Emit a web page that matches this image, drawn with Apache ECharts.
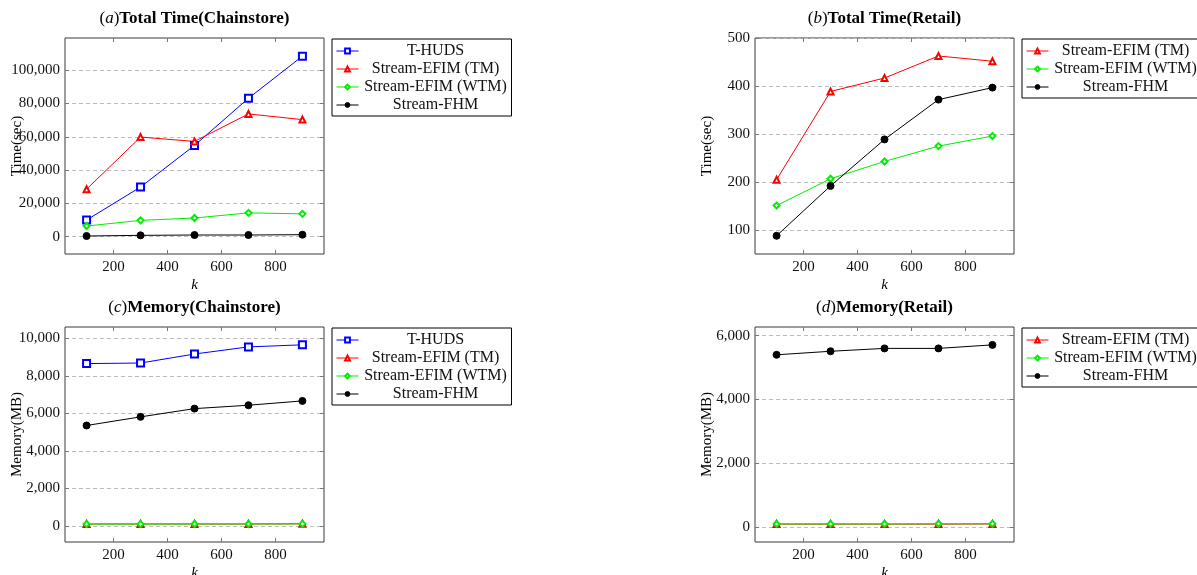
<!DOCTYPE html>
<html>
<head>
<meta charset="utf-8">
<script src="https://cdn.jsdelivr.net/npm/echarts@6/dist/echarts.min.js"></script>
<style>
  html, body { margin: 0; padding: 0; background: #fff; }
  #chart { width: 1197px; height: 575px; }
</style>
</head>
<body>
<div id="chart"></div>
<script>
const chartDom = document.getElementById("chart");
const chart = echarts.init(chartDom, null, { renderer: "canvas" });

// data
const kValues = [100, 300, 500, 700, 900];
const kTicks = [200, 400, 600, 800];

const timeChainHUDS = [10000, 29800, 54800, 83100, 108400];
const timeChainTM = [28500, 59800, 57200, 73700, 70300];
const timeChainWTM = [6400, 9800, 11200, 14300, 13700];
const timeChainFHM = [400, 800, 1000, 1000, 1200];

const timeRetailTM = [205, 389, 417, 463, 452];
const timeRetailWTM = [151, 207, 243, 275, 296];
const timeRetailFHM = [88, 192, 289, 372, 397];

const memChainHUDS = [8650, 8680, 9160, 9540, 9650];
const memChainTM = [100, 100, 100, 100, 110];
const memChainWTM = [95, 95, 100, 100, 105];
const memChainFHM = [5350, 5810, 6250, 6430, 6660];

const memRetailTM = [100, 100, 100, 100, 105];
const memRetailWTM = [105, 105, 105, 110, 110];
const memRetailFHM = [5400, 5510, 5600, 5600, 5710];

const ticksTimeChain = [0, 20000, 40000, 60000, 80000, 100000];
const ticksTimeRetail = [100, 200, 300, 400, 500];
const ticksMemChain = [0, 2000, 4000, 6000, 8000, 10000];
const ticksMemRetail = [0, 2000, 4000, 6000];

const font = "Liberation Serif";

const panels = [
  { tag: "a", title: "Total Time(Chainstore)", yName: "Time(sec)", left: 65, top: 38, height: 216,
    yMin: -10400, yMax: 119300, yTicks: ticksTimeChain,
    lines: [["T-HUDS", timeChainHUDS], ["Stream-EFIM (TM)", timeChainTM], ["Stream-EFIM (WTM)", timeChainWTM], ["Stream-FHM", timeChainFHM]] },
  { tag: "b", title: "Total Time(Retail)", yName: "Time(sec)", left: 755, top: 38, height: 216,
    yMin: 50, yMax: 500.5, yTicks: ticksTimeRetail,
    lines: [["Stream-EFIM (TM)", timeRetailTM], ["Stream-EFIM (WTM)", timeRetailWTM], ["Stream-FHM", timeRetailFHM]] },
  { tag: "c", title: "Memory(Chainstore)", yName: "Memory(MB)", left: 65, top: 327, height: 215,
    yMin: -860, yMax: 10600, yTicks: ticksMemChain,
    lines: [["T-HUDS", memChainHUDS], ["Stream-EFIM (TM)", memChainTM], ["Stream-EFIM (WTM)", memChainWTM], ["Stream-FHM", memChainFHM]] },
  { tag: "d", title: "Memory(Retail)", yName: "Memory(MB)", left: 755, top: 327, height: 215,
    yMin: -460, yMax: 6270, yTicks: ticksMemRetail,
    lines: [["Stream-EFIM (TM)", memRetailTM], ["Stream-EFIM (WTM)", memRetailWTM], ["Stream-FHM", memRetailFHM]] },
];

const styles = {
  "T-HUDS": { color: "#0000ff", symbol: "emptyRect", size: 7 },
  "Stream-EFIM (TM)": { color: "#ff0000", symbol: "emptyTriangle", size: 6 },
  "Stream-EFIM (WTM)": { color: "#00ee00", symbol: "emptyDiamond", size: 6 },
  "Stream-FHM": { color: "#000000", symbol: "circle", size: 7 },
};

const gridW = 259;

function fmt(v) {
  return v.toLocaleString("en-US");
}

const grid = [];
const xAxis = [];
const yAxis = [];
const series = [];
const legend = [];
const graphic = [];

panels.forEach((p, i) => {
  grid.push({
    left: p.left, top: p.top, width: gridW, height: p.height,
    outerBoundsMode: "none", containLabel: false,
    show: true, borderColor: "#3a3a3a", borderWidth: 1, backgroundColor: "transparent",
  });
  // bottom x axis
  xAxis.push({
    gridIndex: i, type: "value", min: 20, max: 980, position: "bottom",
    name: "k", nameLocation: "middle", nameGap: 24, nameMoveOverlap: false,
    nameTextStyle: { fontFamily: font, fontStyle: "italic", fontSize: 15, color: "#000" },
    axisLine: { show: false, onZero: false },
    axisTick: { show: true, inside: true, length: 4, customValues: kTicks, lineStyle: { color: "#777" } },
    axisLabel: { customValues: kTicks, fontFamily: font, fontSize: 15, color: "#111", margin: 6 },
    splitLine: { show: false },
  });
  // mirrored top ticks
  xAxis.push({
    gridIndex: i, type: "value", min: 20, max: 980, position: "top",
    axisLine: { show: false, onZero: false },
    axisTick: { show: true, inside: true, length: 4, customValues: kTicks, lineStyle: { color: "#777" } },
    axisLabel: { show: false },
    splitLine: { show: false },
  });
  yAxis.push({
    gridIndex: i, type: "value", min: p.yMin, max: p.yMax, position: "left",
    name: p.yName, nameLocation: "middle", nameGap: 40, nameMoveOverlap: false,
    nameTextStyle: { fontFamily: font, fontSize: 15, color: "#000" },
    axisLine: { show: false, onZero: false },
    axisTick: { show: true, inside: true, length: 4, customValues: p.yTicks, lineStyle: { color: "#777" } },
    axisLabel: { customValues: p.yTicks, fontFamily: font, fontSize: 15, color: "#111", margin: 5, formatter: fmt },
    splitLine: { show: true, lineStyle: { color: "#bdbdbd", type: [4, 3], width: 1 } },
  });
  yAxis.push({
    gridIndex: i, type: "value", min: p.yMin, max: p.yMax, position: "right",
    axisLine: { show: false, onZero: false },
    axisTick: { show: true, inside: true, length: 4, customValues: p.yTicks, lineStyle: { color: "#777" } },
    axisLabel: { show: false },
    splitLine: { show: false },
  });

  p.lines.forEach(([name, vals]) => {
    const s = styles[name];
    series.push({
      name: name, type: "line",
      xAxisIndex: i * 2, yAxisIndex: i * 2,
      data: kValues.map((k, j) => [k, vals[j]]),
      symbol: s.symbol, symbolSize: s.size, showSymbol: true,
      lineStyle: { color: s.color, width: 1 },
      itemStyle: { color: s.color, borderColor: s.color, borderWidth: 1 },
      emphasis: { disabled: true },
      animation: false,
    });
  });

  legend.push({
    orient: "vertical", left: p.left + gridW + 8, top: p.top + 1,
    data: p.lines.map((l) => l[0]),
    selectedMode: false,
    borderColor: "#000", borderWidth: 1, backgroundColor: "#fff",
    padding: [4, 4, 3, 4], itemGap: 2, itemWidth: 22, itemHeight: 6,
    lineStyle: { width: 1 },
    itemStyle: { borderWidth: 1 },
    formatter: (n) => "{t|" + n + "}",
    textStyle: {
      fontFamily: font, fontSize: 16, color: "#111",
      rich: { t: { width: 144, align: "center", fontFamily: font, fontSize: 16, lineHeight: 16.5 } },
    },
  });

  graphic.push({
    type: "text", x: p.left + gridW / 2, y: p.top - 19,
    style: {
      text: "{n|(}{i|" + p.tag + "}{n|)}{b|" + p.title + "}",
      align: "center", verticalAlign: "middle",
      rich: {
        n: { fontFamily: font, fontSize: 17, fill: "#000" },
        i: { fontFamily: font, fontSize: 17, fontStyle: "italic", fill: "#000" },
        b: { fontFamily: font, fontSize: 17, fontWeight: "bold", fill: "#000" },
      },
    },
  });
});

chart.setOption({
  animation: false,
  backgroundColor: "#fff",
  grid: grid,
  xAxis: xAxis,
  yAxis: yAxis,
  legend: legend,
  graphic: graphic,
  series: series,
});

window.addEventListener("resize", function () {
  chart.resize();
});
</script>
</body>
</html>
